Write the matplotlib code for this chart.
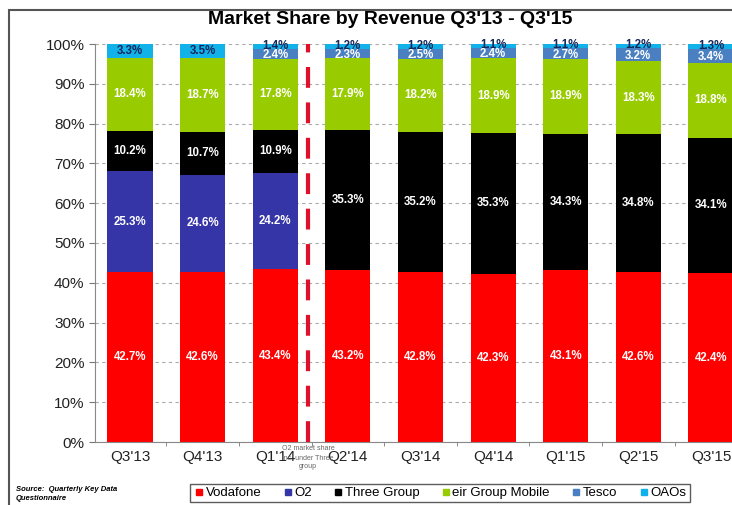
import numpy as np
import matplotlib.pyplot as plt
from matplotlib.lines import Line2D
from matplotlib.patches import Rectangle

plt.rcParams['font.family'] = ['Liberation Sans', 'DejaVu Sans']

quarters = ["Q3'13", "Q4'13", "Q1'14", "Q2'14", "Q3'14", "Q4'14", "Q1'15", "Q2'15", "Q3'15"]
vodafone = [42.7, 42.6, 43.4, 43.2, 42.8, 42.3, 43.1, 42.6, 42.4]
o2 = [25.3, 24.6, 24.2, 0, 0, 0, 0, 0, 0]
three = [10.2, 10.7, 10.9, 35.3, 35.2, 35.3, 34.3, 34.8, 34.1]
eir = [18.4, 18.7, 17.8, 17.9, 18.2, 18.9, 18.9, 18.3, 18.8]
tesco = [0, 0, 2.4, 2.3, 2.5, 2.4, 2.7, 3.2, 3.4]
oaos = [3.3, 3.5, 1.4, 1.2, 1.2, 1.1, 1.1, 1.2, 1.3]

series = [
    ("Vodafone", vodafone, "#ff0000", "white"),
    ("O2", o2, "#3535a8", "white"),
    ("Three Group", three, "#000000", "white"),
    ("eir Group Mobile", eir, "#99cc00", "white"),
    ("Tesco", tesco, "#4a7fc1", "white"),
    ("OAOs", oaos, "#11b2ea", "#14275a"),
]

fig = plt.figure(figsize=(7.32, 5.05), dpi=100)
fig.patches.append(Rectangle((9 / 732, -0.1), 1.2, 1.1 - 10 / 505, transform=fig.transFigure,
                             fill=False, edgecolor="#555555", linewidth=1.5))
ax = fig.add_axes([95 / 732, 1 - 442 / 505, 637 / 732, (442 - 44) / 505])

x = np.arange(len(quarters))
bottom = np.zeros(len(quarters))
for name, vals, color, tcolor in series:
    vals = np.array(vals, dtype=float)
    ax.bar(x, vals, 0.62, bottom=bottom, color=color, label=name, zorder=2)
    for xi, b, v in zip(x, bottom, vals):
        if v > 0:
            # thin top segments: nudge the labels apart a bit
            ypos = b + v / 2
            if name == "Tesco":
                ypos -= 0.3
            elif name == "OAOs" and v < 2:
                ypos += 0.2
            ax.text(xi, ypos, f"{v:.1f}%", ha="center", va="center",
                    color=tcolor, fontsize=8.3, fontweight="bold", zorder=3)
    bottom += vals

ax.set_xlim(-0.482, 8.29)
ax.set_ylim(0, 100)
ax.set_yticks(np.arange(0, 101, 10))
ax.set_yticklabels([f"{v}%" for v in range(0, 101, 10)], fontsize=11, color="#222222")
ax.yaxis.grid(True, linestyle=(0, (3, 3)), color="#aaaaaa", linewidth=0.8, zorder=0)
ax.set_xticks(x)
ax.set_xticklabels(quarters, fontsize=11, color="#222222")
ax.set_xticks(x[:-1] + 0.5, minor=True)
ax.tick_params(axis="x", which="major", length=0, pad=6)
ax.tick_params(axis="x", which="minor", length=3, color="#777777")
ax.tick_params(axis="y", length=4, color="#777777")
for s in ["top", "right"]:
    ax.spines[s].set_visible(False)
for s in ["left", "bottom"]:
    ax.spines[s].set_color("#888888")

# O2 merged into Three from Q2'14
ax.plot([2.45, 2.45], [0, 100], color="#e0102a", linewidth=3, linestyle=(0, (5, 3.5)),
        zorder=4, clip_on=False)
fig.text(308 / 732, 1 - 458 / 505, "O2 market share\ninc. under Three\ngroup",
         ha="center", va="center", fontsize=5, color="#666666", linespacing=1.4)

fig.text(0.533, 0.962, "Market Share by Revenue Q3'13 - Q3'15", ha="center", va="center",
         fontsize=14, fontweight="bold")

handles = [Line2D([], [], marker="s", linestyle="none", markersize=5, color=c) for _, _, c, _ in series]
leg = fig.legend(handles, [s[0] for s in series], loc="center", ncol=6,
                 bbox_to_anchor=(440 / 732, 1 - 493 / 505), fontsize=9.5, frameon=True,
                 fancybox=False, edgecolor="#333333", handletextpad=0.1, columnspacing=1.6,
                 borderpad=0.25, handlelength=0.8)
leg.get_frame().set_linewidth(1.0)

fig.text(16 / 732, 1 - 494 / 505, "Source:  Quarterly Key Data\nQuestionnaire", fontsize=5.5,
         style="italic", fontweight="bold", va="center", ha="left", linespacing=1.3)

fig.savefig("out.png", dpi=100)
